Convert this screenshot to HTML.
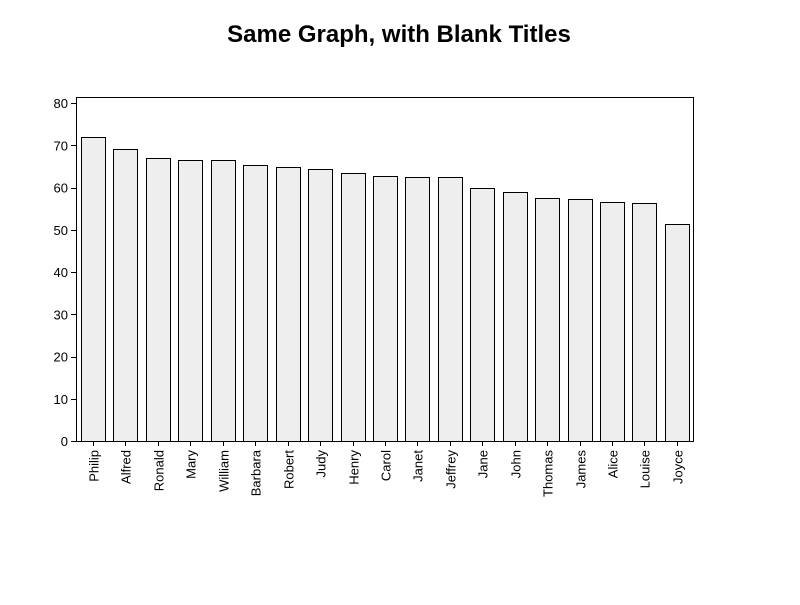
<!DOCTYPE html>
<html><head><meta charset="utf-8"><style>
body{margin:0;background:#fff;font-family:"Liberation Sans",sans-serif}
</style></head><body>
<svg width="800" height="600" xmlns="http://www.w3.org/2000/svg">
<rect width="800" height="600" fill="#fff"/>
<text x="399" y="42" text-anchor="middle" font-size="24" font-weight="bold" fill="#000">Same Graph, with Blank Titles</text>
<g id="plot"></g>
</svg>
<script>
const names=["Philip","Alfred","Ronald","Mary","William","Barbara","Robert","Judy","Henry","Carol","Janet","Jeffrey","Jane","John","Thomas","James","Alice","Louise","Joyce"];
const heights=[72,69,67,66.5,66.5,65.3,64.8,64.3,63.5,62.8,62.5,62.5,59.8,59,57.5,57.3,56.5,56.3,51.3];
const yTicks=[0,10,20,30,40,50,60,70,80];
const NS="http://www.w3.org/2000/svg";
const g=document.getElementById('plot');
const x0=76,x1=693,yTop=97,yBase=441;
const y=v=>yBase-v*4.225;
const pitch=32.44,bw=24,firstX=81;
const bx=i=>firstX+i*pitch;
function mk(t,a){const e=document.createElementNS(NS,t);for(const k in a)e.setAttribute(k,a[k]);g.appendChild(e);return e;}
const frame=mk('rect',{x:x0+0.5,y:yTop+0.5,width:x1-x0,height:yBase-yTop,fill:'none',stroke:'#000'});


yTicks.forEach(v=>{
  const l=mk('line',{x1:x0-5,x2:x0,y1:Math.round(y(v))+0.5,y2:Math.round(y(v))+0.5,stroke:'#000'});
  
  
  const t=mk('text',{x:x0-8,y:y(v)+5,'text-anchor':'end','font-size':13,fill:'#000'});
  t.textContent=v;
  
  
});
names.forEach((n,i)=>{
  const xb=Math.round(bx(i));
  const r=mk('rect',{x:xb+0.5,y:Math.round(y(heights[i]))+0.5,width:bw,height:Math.round(yBase-y(heights[i])),fill:'#eeeeee',stroke:'#000'});
  
  
  const cx=xb+bw/2+0.5;
  const tk=mk('line',{x1:cx,x2:cx,y1:yBase,y2:yBase+5,stroke:'#000'});
  
  
  const t=mk('text',{x:0,y:0,'text-anchor':'end','font-size':13,fill:'#000',transform:`translate(${cx+5},${yBase+9}) rotate(-90)`});
  t.textContent=n;
  
  
});
</script>
</body></html>
